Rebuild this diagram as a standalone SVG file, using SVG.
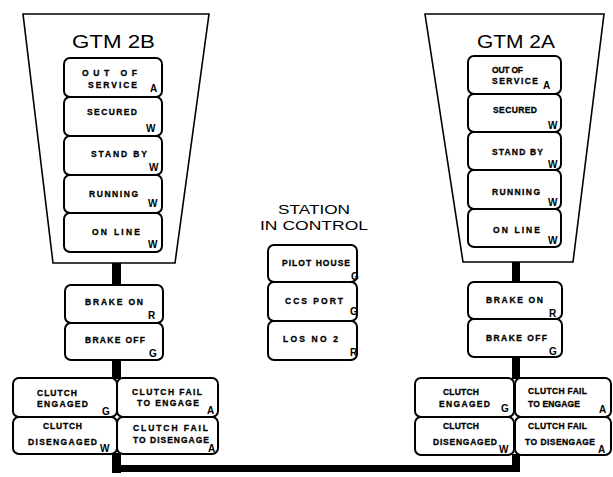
<svg xmlns="http://www.w3.org/2000/svg" width="613" height="477" viewBox="0 0 613 477">
<style>
.pan{fill:#fff;stroke:#000;stroke-width:1.6}
.b{fill:#fff;stroke:#000;stroke-width:2}
.t{font-family:"Liberation Sans",Arial,sans-serif;font-weight:bold;font-size:8.5px;fill:#000;stroke:#000;stroke-width:0.3}
.l{font-family:"Liberation Sans",Arial,sans-serif;font-weight:bold;font-size:10px;fill:#000}
.h{font-family:"Liberation Sans",Arial,sans-serif;font-size:18px;fill:#000}
.s{font-family:"Liberation Sans",Arial,sans-serif;font-size:13px;fill:#000}
.w{fill:#000}
</style>
<rect width="613" height="477" fill="#fff"/>
<g id="connectors">
<rect class="w" x="112" y="262" width="9" height="24"/>
<rect class="w" x="112" y="359" width="9" height="20"/>
<rect class="w" x="112" y="453" width="9" height="20"/>
<rect class="w" x="112" y="465" width="408" height="7"/>
<rect class="w" x="512" y="261" width="8" height="22"/>
<rect class="w" x="512" y="356" width="8" height="23"/>
<rect class="w" x="512" y="454" width="8" height="18"/>
</g>
<g id="gtm2b">
<polygon class="pan" points="23,14 209,14 175,263 53,263"/>
<text class="h" x="72" y="48" textLength="83" lengthAdjust="spacingAndGlyphs">GTM 2B</text>
<g id="gtm2b-oos"><rect class="b" x="64" y="58" width="98" height="39" rx="6"/>
<text class="t" x="82" y="76" textLength="55" lengthAdjust="spacing">OUT  OF</text>
<text class="t" x="88" y="88" textLength="49" lengthAdjust="spacing">SERVICE</text>
<text class="l" x="150" y="92">A</text></g>
<g id="gtm2b-secured"><rect class="b" x="64" y="97" width="98" height="39" rx="6"/>
<text class="t" x="87" y="115" textLength="50" lengthAdjust="spacing">SECURED</text>
<text class="l" x="146" y="132">W</text></g>
<g id="gtm2b-standby"><rect class="b" x="64" y="136" width="98" height="39" rx="6"/>
<text class="t" x="91" y="157" textLength="56" lengthAdjust="spacing">STAND BY</text>
<text class="l" x="149" y="171">W</text></g>
<g id="gtm2b-running"><rect class="b" x="64" y="175" width="98" height="38" rx="6"/>
<text class="t" x="89" y="197" textLength="49" lengthAdjust="spacing">RUNNING</text>
<text class="l" x="148" y="207">W</text></g>
<g id="gtm2b-online"><rect class="b" x="64" y="213" width="98" height="39" rx="6"/>
<text class="t" x="92" y="235" textLength="48" lengthAdjust="spacing">ON LINE</text>
<text class="l" x="148" y="248">W</text></g>
</g>
<g id="gtm2a">
<polygon class="pan" points="425,14 604,14 573,262 463,262"/>
<text class="h" x="477" y="48" textLength="78" lengthAdjust="spacingAndGlyphs">GTM 2A</text>
<g id="gtm2a-oos"><rect class="b" x="468" y="56" width="93" height="38" rx="6"/>
<text class="t" x="492" y="73" textLength="31" lengthAdjust="spacing">OUT OF</text>
<text class="t" x="492" y="84" textLength="46" lengthAdjust="spacing">SERVICE</text>
<text class="l" x="543" y="89">A</text></g>
<g id="gtm2a-secured"><rect class="b" x="468" y="94" width="93" height="38" rx="6"/>
<text class="t" x="493" y="113" textLength="44" lengthAdjust="spacing">SECURED</text>
<text class="l" x="548" y="129">W</text></g>
<g id="gtm2a-standby"><rect class="b" x="468" y="132" width="93" height="38" rx="6"/>
<text class="t" x="492" y="155" textLength="51" lengthAdjust="spacing">STAND BY</text>
<text class="l" x="548" y="168">W</text></g>
<g id="gtm2a-running"><rect class="b" x="468" y="170" width="93" height="39" rx="6"/>
<text class="t" x="492" y="195" textLength="48" lengthAdjust="spacing">RUNNING</text>
<text class="l" x="548" y="206">W</text></g>
<g id="gtm2a-online"><rect class="b" x="468" y="209" width="93" height="38" rx="6"/>
<text class="t" x="493" y="233" textLength="47" lengthAdjust="spacing">ON LINE</text>
<text class="l" x="548" y="244">W</text></g>
</g>
<g id="station">
<text class="s" x="278" y="214" textLength="72" lengthAdjust="spacingAndGlyphs">STATION</text>
<text class="s" x="260" y="230" textLength="108" lengthAdjust="spacingAndGlyphs">IN CONTROL</text>
<g id="st-pilot"><rect class="b" x="268" y="245" width="89" height="37" rx="6"/>
<text class="t" x="282" y="266" textLength="68" lengthAdjust="spacing">PILOT HOUSE</text>
<text class="l" x="351" y="280">G</text></g>
<g id="st-ccs"><rect class="b" x="268" y="282" width="89" height="39" rx="6"/>
<text class="t" x="285" y="304" textLength="58" lengthAdjust="spacing">CCS PORT</text>
<text class="l" x="350" y="315">G</text></g>
<g id="st-los"><rect class="b" x="268" y="321" width="89" height="39" rx="6"/>
<text class="t" x="283" y="342" textLength="55" lengthAdjust="spacing">LOS NO 2</text>
<text class="l" x="350" y="356">R</text></g>
</g>
<g id="brake2b">
<g id="b2b-on"><rect class="b" x="65" y="285" width="98" height="38" rx="6"/>
<text class="t" x="85" y="305" textLength="58" lengthAdjust="spacing">BRAKE ON</text>
<text class="l" x="148" y="319">R</text></g>
<g id="b2b-off"><rect class="b" x="65" y="323" width="98" height="37" rx="6"/>
<text class="t" x="85" y="343" textLength="60" lengthAdjust="spacing">BRAKE OFF</text>
<text class="l" x="149" y="357">G</text></g>
</g>
<g id="brake2a">
<g id="b2a-on"><rect class="b" x="468" y="282" width="94" height="37" rx="6"/>
<text class="t" x="486" y="303" textLength="57" lengthAdjust="spacing">BRAKE ON</text>
<text class="l" x="549" y="317">R</text></g>
<g id="b2a-off"><rect class="b" x="468" y="319" width="94" height="38" rx="6"/>
<text class="t" x="486" y="341" textLength="61" lengthAdjust="spacing">BRAKE OFF</text>
<text class="l" x="549" y="355">G</text></g>
</g>
<g id="clutch2b">
<g id="c2b-eng"><rect class="b" x="13" y="378" width="104" height="39" rx="6"/>
<text class="t" x="37" y="396" textLength="40" lengthAdjust="spacing">CLUTCH</text>
<text class="t" x="37" y="407" textLength="51" lengthAdjust="spacing">ENGAGED</text>
<text class="l" x="102" y="415">G</text></g>
<g id="c2b-dis"><rect class="b" x="13" y="417" width="104" height="37" rx="6"/>
<text class="t" x="43" y="429" textLength="39" lengthAdjust="spacing">CLUTCH</text>
<text class="t" x="28" y="445" textLength="69" lengthAdjust="spacing">DISENGAGED</text>
<text class="l" x="100" y="452">W</text></g>
<g id="c2b-failen"><rect class="b" x="117" y="378" width="101" height="39" rx="6"/>
<text class="t" x="132" y="395" textLength="70" lengthAdjust="spacing">CLUTCH FAIL</text>
<text class="t" x="137" y="406" textLength="62" lengthAdjust="spacing">TO ENGAGE</text>
<text class="l" x="207" y="414">A</text></g>
<g id="c2b-faildis"><rect class="b" x="117" y="417" width="101" height="37" rx="6"/>
<text class="t" x="133" y="431" textLength="75" lengthAdjust="spacing">CLUTCH FAIL</text>
<text class="t" x="133" y="443" textLength="76" lengthAdjust="spacing">TO DISENGAGE</text>
<text class="l" x="208" y="452">A</text></g>
</g>
<g id="clutch2a">
<g id="c2a-eng"><rect class="b" x="415" y="378" width="99" height="39" rx="6"/>
<text class="t" x="443" y="395" textLength="36" lengthAdjust="spacing">CLUTCH</text>
<text class="t" x="439" y="407" textLength="51" lengthAdjust="spacing">ENGAGED</text>
<text class="l" x="501" y="412">G</text></g>
<g id="c2a-dis"><rect class="b" x="415" y="417" width="99" height="38" rx="6"/>
<text class="t" x="443" y="429" textLength="36" lengthAdjust="spacing">CLUTCH</text>
<text class="t" x="433" y="445" textLength="64" lengthAdjust="spacing">DISENGAGED</text>
<text class="l" x="499" y="453">W</text></g>
<g id="c2a-failen"><rect class="b" x="515" y="378" width="96" height="39" rx="6"/>
<text class="t" x="528" y="394" textLength="59" lengthAdjust="spacing">CLUTCH FAIL</text>
<text class="t" x="528" y="407" textLength="52" lengthAdjust="spacing">TO ENGAGE</text>
<text class="l" x="599" y="413">A</text></g>
<g id="c2a-faildis"><rect class="b" x="515" y="417" width="96" height="38" rx="6"/>
<text class="t" x="528" y="429" textLength="59" lengthAdjust="spacing">CLUTCH FAIL</text>
<text class="t" x="525" y="445" textLength="70" lengthAdjust="spacing">TO DISENGAGE</text>
<text class="l" x="598" y="453">A</text></g>
</g>
</svg>
